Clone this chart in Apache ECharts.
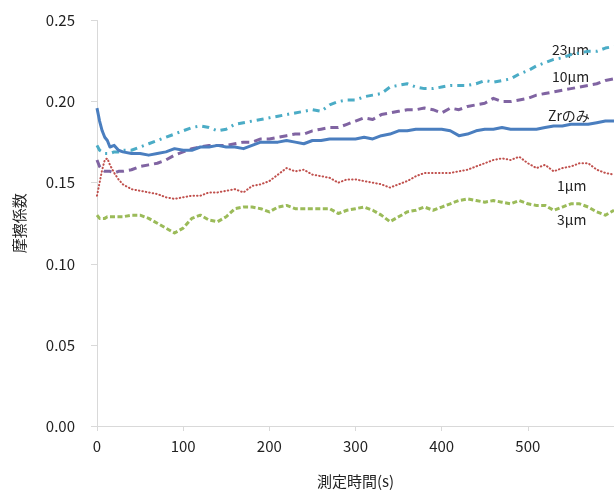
<!DOCTYPE html>
<html>
<head>
<meta charset="utf-8">
<script src="https://cdn.jsdelivr.net/npm/echarts@6/dist/echarts.min.js"></script>
<style>
  html, body { margin: 0; padding: 0; background: #fff; }
  #chart { width: 614px; height: 494px; }
</style>
</head>
<body>
<div id="chart"></div>
<script>
// Measurement time (s)
const times = [0, 3, 6, 9, 12, 15, 20, 25, 30,
  40, 50, 60, 70, 80, 90, 100, 110, 120, 130, 140, 150, 160, 170, 180, 190,
  200, 210, 220, 230, 240, 250, 260, 270, 280, 290, 300, 310, 320, 330, 340,
  350, 360, 370, 380, 390, 400, 410, 420, 430, 440, 450, 460, 470, 480, 490,
  500, 510, 520, 530, 540, 550, 560, 570, 580, 590, 600];

// Friction coefficient per coating
const zrOnly = [0.196, 0.188, 0.182, 0.178, 0.176, 0.172, 0.173, 0.170, 0.169,
  0.168, 0.168, 0.167, 0.168, 0.169, 0.171, 0.170, 0.170, 0.172, 0.172, 0.173, 0.172, 0.172, 0.171, 0.173, 0.175,
  0.175, 0.175, 0.176, 0.175, 0.174, 0.176, 0.176, 0.177, 0.177, 0.177, 0.177, 0.178, 0.177, 0.179, 0.180,
  0.182, 0.182, 0.183, 0.183, 0.183, 0.183, 0.182, 0.179, 0.180, 0.182, 0.183, 0.183, 0.184, 0.183, 0.183,
  0.183, 0.183, 0.184, 0.185, 0.185, 0.186, 0.186, 0.186, 0.187, 0.188, 0.188];

const um23 = [0.173, 0.170, 0.169, 0.168, 0.168, 0.168, 0.169, 0.169, 0.170,
  0.170, 0.172, 0.174, 0.176, 0.178, 0.180, 0.182, 0.184, 0.185, 0.184, 0.182, 0.183, 0.186, 0.187, 0.188, 0.189,
  0.190, 0.191, 0.192, 0.193, 0.194, 0.195, 0.194, 0.198, 0.200, 0.201, 0.201, 0.203, 0.204, 0.205, 0.209,
  0.210, 0.211, 0.209, 0.208, 0.208, 0.209, 0.210, 0.210, 0.210, 0.211, 0.213, 0.212, 0.213, 0.214, 0.217,
  0.219, 0.222, 0.224, 0.226, 0.227, 0.229, 0.230, 0.231, 0.231, 0.233, 0.234];

const um10 = [0.164, 0.160, 0.158, 0.157, 0.157, 0.157, 0.156, 0.157, 0.157,
  0.158, 0.160, 0.161, 0.162, 0.164, 0.167, 0.169, 0.171, 0.172, 0.173, 0.173, 0.173, 0.174, 0.175, 0.175, 0.177,
  0.177, 0.178, 0.179, 0.180, 0.180, 0.182, 0.183, 0.184, 0.184, 0.186, 0.188, 0.190, 0.189, 0.192, 0.193,
  0.194, 0.195, 0.195, 0.196, 0.195, 0.193, 0.196, 0.195, 0.197, 0.198, 0.199, 0.202, 0.200, 0.200, 0.201,
  0.202, 0.204, 0.205, 0.206, 0.207, 0.208, 0.209, 0.210, 0.211, 0.213, 0.214];

const um1 = [0.142, 0.150, 0.158, 0.164, 0.165, 0.161, 0.156, 0.152, 0.149,
  0.146, 0.145, 0.144, 0.143, 0.141, 0.140, 0.141, 0.142, 0.142, 0.144, 0.144, 0.145, 0.146, 0.144, 0.148, 0.149,
  0.151, 0.155, 0.159, 0.157, 0.158, 0.155, 0.154, 0.153, 0.150, 0.152, 0.152, 0.151, 0.150, 0.149, 0.147,
  0.149, 0.151, 0.154, 0.156, 0.156, 0.156, 0.156, 0.157, 0.158, 0.160, 0.162, 0.164, 0.165, 0.164, 0.166,
  0.162, 0.159, 0.161, 0.157, 0.159, 0.160, 0.162, 0.162, 0.158, 0.156, 0.155];

const um3 = [0.130, 0.128, 0.128, 0.128, 0.129, 0.129, 0.129, 0.129, 0.129,
  0.130, 0.130, 0.128, 0.125, 0.122, 0.119, 0.122, 0.128, 0.130, 0.127, 0.126, 0.129, 0.134, 0.135, 0.135, 0.134,
  0.132, 0.135, 0.136, 0.134, 0.134, 0.134, 0.134, 0.134, 0.131, 0.133, 0.134, 0.135, 0.133, 0.130, 0.126,
  0.129, 0.132, 0.133, 0.135, 0.133, 0.135, 0.137, 0.139, 0.140, 0.139, 0.138, 0.139, 0.138, 0.137, 0.139,
  0.137, 0.136, 0.136, 0.133, 0.135, 0.137, 0.137, 0.135, 0.132, 0.130, 0.133];

const seriesNames = ['23μm', '10μm', 'Zrのみ', '1μm', '3μm'];

const pairs = (vals) => times.map((t, i) => [t, vals[i]]);

const FONT = '"Noto Sans CJK JP", "Noto Sans", sans-serif';
const axisGrey = '#d9d9d9';

const chart = echarts.init(document.getElementById('chart'), null, { renderer: 'canvas' });

const lineSeries = (name, vals, color, width, dash, cap) => ({
  name: name,
  type: 'line',
  data: pairs(vals),
  showSymbol: false,
  symbol: 'none',
  smooth: false,
  animation: false,
  lineStyle: { color: color, width: width, type: dash, cap: cap || 'butt', join: 'round' }
});

chart.setOption({
  backgroundColor: '#ffffff',
  animation: false,
  grid: { left: 97, top: 20.5, width: 521, height: 408, containLabel: false },
  xAxis: {
    type: 'value',
    min: 0, max: 600, interval: 100,
    name: '測定時間(s)',
    nameLocation: 'middle',
    nameGap: 48,
    nameTextStyle: { fontFamily: FONT, fontSize: 15, color: '#222' },
    axisLine: { show: true, lineStyle: { color: axisGrey, width: 1 } },
    axisTick: { show: true, length: 5, lineStyle: { color: axisGrey } },
    axisLabel: { fontFamily: FONT, fontSize: 15, color: '#222', margin: 13, showMaxLabel: false },
    splitLine: { show: false }
  },
  yAxis: {
    type: 'value',
    min: 0, max: 0.25, interval: 0.05,
    name: '摩擦係数',
    nameLocation: 'middle',
    nameGap: 70,
    nameRotate: 90,
    nameTextStyle: { fontFamily: FONT, fontSize: 15, color: '#222' },
    axisLine: { show: true, lineStyle: { color: axisGrey, width: 1 } },
    axisTick: { show: true, length: 6, lineStyle: { color: axisGrey } },
    axisLabel: { fontFamily: FONT, fontSize: 15, color: '#222', margin: 22,
      formatter: (v) => v.toFixed(2) },
    splitLine: { show: false }
  },
  series: [
    lineSeries(seriesNames[3], um1, '#C0504D', 2, [0.5, 3], 'round'),
    lineSeries(seriesNames[4], um3, '#9BBB59', 3, [5, 2.5]),
    lineSeries(seriesNames[1], um10, '#8064A2', 3, [8, 5]),
    lineSeries(seriesNames[0], um23, '#4BACC6', 3, [7, 5, 2, 5]),
    lineSeries(seriesNames[2], zrOnly, '#4A7EBF', 3, 'solid')
  ],
  graphic: [
    { type: 'text', left: 552, top: 43, style: { text: seriesNames[0], font: '14px ' + FONT, fill: '#222' } },
    { type: 'text', left: 552, top: 70, style: { text: seriesNames[1], font: '14px ' + FONT, fill: '#222' } },
    { type: 'text', left: 548, top: 109, style: { text: seriesNames[2], font: '14px ' + FONT, fill: '#222' } },
    { type: 'text', left: 557, top: 179, style: { text: seriesNames[3], font: '14px ' + FONT, fill: '#222' } },
    { type: 'text', left: 557, top: 213, style: { text: seriesNames[4], font: '14px ' + FONT, fill: '#222' } }
  ]
});
</script>
</body>
</html>
